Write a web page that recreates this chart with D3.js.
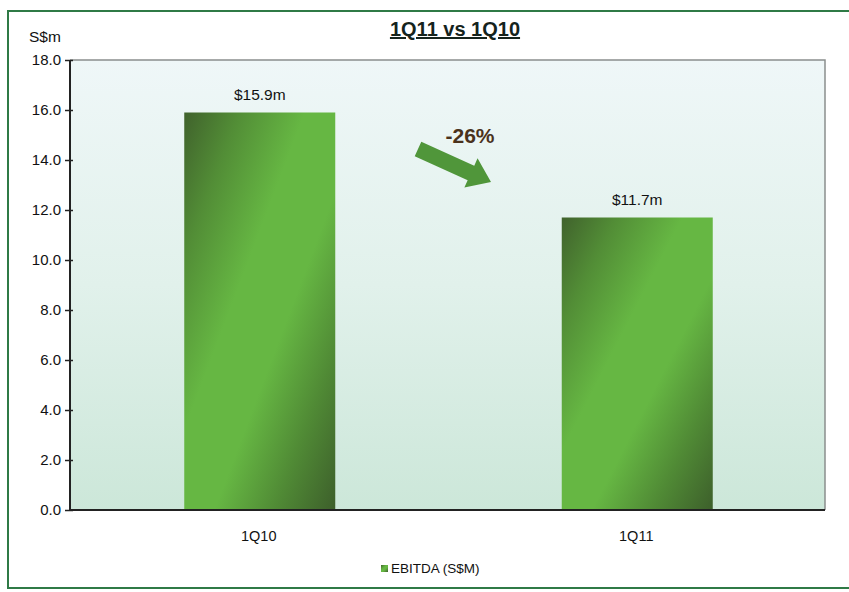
<!DOCTYPE html>
<html>
<head>
<meta charset="utf-8">
<script src="https://cdn.jsdelivr.net/npm/d3@7"></script>
<style>
  html, body { margin: 0; padding: 0; background: #ffffff; }
  svg { display: block; font-family: Arial, "Liberation Sans", sans-serif; }
</style>
</head>
<body>
<svg id="chart" width="849" height="592"></svg>
<script>
// EBITDA, quarter on quarter
const categories = ["1Q10", "1Q11"];
const ebitda = [15.9, 11.7];
const valueLabels = ["$15.9m", "$11.7m"];
const yTicks = [0, 2, 4, 6, 8, 10, 12, 14, 16, 18];
const changeLabel = "-26%";
const titleText = "1Q11 vs 1Q10";
const yUnit = "S$m";
const legendLabel = "EBITDA (S$M)";

const svg = d3.select("#chart");
const defs = svg.append("defs");

// plot background: pale blue at top fading to mint at the base
const bg = defs.append("linearGradient").attr("id", "plotBg")
  .attr("x1", 0).attr("y1", 0).attr("x2", 0).attr("y2", 1);
bg.append("stop").attr("offset", 0).attr("stop-color", "#eff7f8");
bg.append("stop").attr("offset", 0.5).attr("stop-color", "#e1f1eb");
bg.append("stop").attr("offset", 1).attr("stop-color", "#cce7d9");

// bar fill: dark corners, bright diagonal band
const barG = defs.append("linearGradient").attr("id", "barFill")
  .attr("x1", 0).attr("y1", 0).attr("x2", 1).attr("y2", 1);
[[0, "#40622c"], [0.18, "#528d36"], [0.4, "#66b743"], [0.6, "#66b743"],
 [0.8, "#508a35"], [1, "#3d5f2b"]].forEach(([o, c]) =>
  barG.append("stop").attr("offset", o).attr("stop-color", c));

// outer frame
svg.append("rect")
  .attr("x", 8).attr("y", 11).attr("width", 860).attr("height", 577)
  .attr("fill", "#ffffff").attr("stroke", "#2f7a46").attr("stroke-width", 2);

const margin = { left: 70, right: 24, top: 60, bottom: 82 };
const W = 849, H = 592;
const x0 = margin.left, x1 = W - margin.right;
const y0 = H - margin.bottom, y1 = margin.top;

const x = d3.scaleBand().domain(categories).range([x0, x1])
  .paddingInner(0.6).paddingOuter(0.3);
const y = d3.scaleLinear().domain([0, 18]).range([y0, y1]);

// plot area
svg.append("rect")
  .attr("x", x0).attr("y", y1).attr("width", x1 - x0).attr("height", y0 - y1)
  .attr("fill", "url(#plotBg)");
svg.append("path")
  .attr("d", `M${x0},${y1}H${x1}V${y0}`)
  .attr("fill", "none").attr("stroke", "#8a8f8d").attr("stroke-width", 1.5);

// bars
svg.append("g").selectAll("rect").data(categories).join("rect")
  .attr("x", d => x(d) + 1)
  .attr("y", (d, i) => y(ebitda[i]))
  .attr("width", x.bandwidth())
  .attr("height", (d, i) => y(0) - y(ebitda[i]))
  .attr("fill", "url(#barFill)");

// value labels
svg.append("g").selectAll("text").data(categories).join("text")
  .attr("x", d => x(d) + x.bandwidth() / 2 + 1)
  .attr("y", (d, i) => y(ebitda[i]) - 13)
  .attr("text-anchor", "middle")
  .attr("font-size", 15.5).attr("fill", "#111")
  .text((d, i) => valueLabels[i]);

// y axis
const yAxis = svg.append("g").attr("transform", `translate(${x0},0)`)
  .call(d3.axisLeft(y).tickValues(yTicks).tickFormat(d3.format(".1f"))
    .tickSize(6).tickPadding(3));
yAxis.select(".domain").attr("stroke", "#222").attr("stroke-width", 2)
  .attr("d", `M0,${y1}V${y0}`);
yAxis.selectAll(".tick line").attr("stroke", "#222").attr("stroke-width", 1.5)
  .attr("x2", -5).attr("x1", 3);
yAxis.selectAll(".tick text").attr("font-size", 15).attr("fill", "#111")
  .attr("font-family", "Arial, 'Liberation Sans', sans-serif");

// x axis
const xAxis = svg.append("g").attr("transform", `translate(0,${y0})`)
  .call(d3.axisBottom(x).tickSize(0).tickPadding(21));
xAxis.select(".domain").attr("stroke", "#222").attr("stroke-width", 2)
  .attr("d", `M${x0},0H${x1}`);
xAxis.selectAll(".tick text").attr("font-size", 14.5).attr("fill", "#111")
  .attr("font-family", "Arial, 'Liberation Sans', sans-serif");

// unit label
svg.append("text").attr("x", 29).attr("y", 42)
  .attr("font-size", 15.5).attr("fill", "#111").text(yUnit);

// title
svg.append("text").attr("x", 455).attr("y", 36)
  .attr("text-anchor", "middle").attr("font-size", 20).attr("font-weight", "bold")
  .attr("fill", "#15231c").attr("text-decoration", "underline").text(titleText);

// change arrow between the bars
const ax1 = 418, ay1 = 149, ax2 = 491, ay2 = 182;
const ang = Math.atan2(ay2 - ay1, ax2 - ax1);
const len = Math.hypot(ax2 - ax1, ay2 - ay1);
const shaft = 8, head = 16, headLen = 22;
svg.append("path")
  .attr("transform", `translate(${ax1},${ay1}) rotate(${ang * 180 / Math.PI})`)
  .attr("d", `M0,${-shaft}L${len - headLen},${-shaft}L${len - headLen},${-head}L${len},0L${len - headLen},${head}L${len - headLen},${shaft}L0,${shaft}Z`)
  .attr("fill", "#50963a");
svg.append("text").attr("x", 470).attr("y", 143)
  .attr("text-anchor", "middle").attr("font-size", 21).attr("font-weight", "bold")
  .attr("fill", "#4a321c").text(changeLabel);

// legend
svg.append("rect").attr("x", 381).attr("y", 565).attr("width", 7).attr("height", 7)
  .attr("fill", "url(#barFill)");
svg.append("text").attr("x", 391).attr("y", 573)
  .attr("font-size", 13.5).attr("fill", "#111").text(legendLabel);
</script>
</body>
</html>
